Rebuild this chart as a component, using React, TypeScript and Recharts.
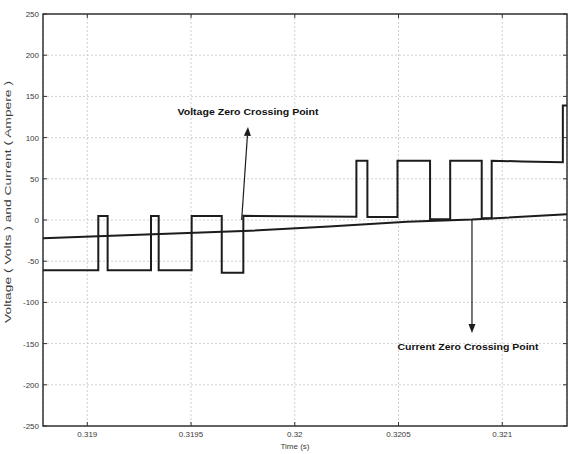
import React from 'react';
import {
  LineChart,
  Line,
  XAxis,
  YAxis,
  CartesianGrid,
  ReferenceLine,
  ReferenceArea,
} from 'recharts';

// Voltage (pulse waveform) breakpoints: time (s) and value
const voltageTime = [
  0.3187865, 0.319053, 0.319053, 0.319098, 0.319098, 0.319307, 0.319307, 0.319344, 0.319344,
  0.319503, 0.319503, 0.319648, 0.319648, 0.319752, 0.319752, 0.320297, 0.320297, 0.32035,
  0.32035, 0.320495, 0.320495, 0.320652, 0.320652, 0.320749, 0.320749, 0.320901, 0.320901,
  0.320949, 0.320949, 0.321095, 0.321292, 0.321292, 0.321312,
];
const voltageValue = [
  -61, -61, 5, 5, -61, -61, 5, 5, -61,
  -61, 5, 5, -64, -64, 5, 4, 72, 72,
  3.5, 3.5, 72, 72, 1, 1, 72, 72, 2,
  2, 72, 71, 70, 139, 139,
];

// Current (slowly rising sine, near its zero crossing)
const currentTime = [0.3187865, 0.31925, 0.319784, 0.320165, 0.320541, 0.320854, 0.321312];
const currentValue = [-22, -18, -13, -8, -2, 0.5, 7];

const xTicks = [0.319, 0.3195, 0.32, 0.3205, 0.321];
const xTickLabels = ['0.319', '0.3195', '0.32', '0.3205', '0.321'];
const yTicks = [-250, -200, -150, -100, -50, 0, 50, 100, 150, 200, 250];

const xDomain: [number, number] = [0.3187865, 0.321312];
const yDomain: [number, number] = [-250, 250];

// Annotations (data coordinates)
const voltageAnnotation = { text: 'Voltage Zero Crossing Point', from: [0.319744, 0], to: [0.3197745, 113] };
const currentAnnotation = { text: 'Current Zero Crossing Point', from: [0.320854, 0], to: [0.320854, -137] };

const voltageData = voltageTime.map((t, i) => ({ t, v: voltageValue[i] }));
const currentData = currentTime.map((t, i) => ({ t, c: currentValue[i] }));

const INK = '#1c1c1c';
const TICK_COLOR = '#3a3a3a';
const FONT = '"Liberation Sans", Arial, sans-serif';
const PLOT_W = 524;
const PLOT_H = 412;

const LeftTick = (props: any) => {
  const { x, y, payload } = props;
  const ax = x + 4;
  return (
    <g>
      <line x1={ax} y1={y} x2={ax + 4} y2={y} stroke="#333" strokeWidth={1} />
      <line x1={ax + PLOT_W} y1={y} x2={ax + PLOT_W - 4} y2={y} stroke="#333" strokeWidth={1} />
      <text x={x} y={y} dy={3} textAnchor="end" fontSize={8} fill={TICK_COLOR} fontFamily={FONT}>
        {payload.value}
      </text>
    </g>
  );
};

const BottomTick = (props: any) => {
  const { x, y, payload } = props;
  const ay = y - 4;
  return (
    <g>
      <line x1={x} y1={ay} x2={x} y2={ay - 4} stroke="#333" strokeWidth={1} />
      <line x1={x} y1={ay - PLOT_H} x2={x} y2={ay - PLOT_H + 4} stroke="#333" strokeWidth={1} />
      <text x={x} y={y} dy={7} textAnchor="middle" fontSize={8} fill={TICK_COLOR} fontFamily={FONT}>
        {xTickLabels[xTicks.indexOf(payload.value)] ?? String(payload.value)}
      </text>
    </g>
  );
};

const makeArrow = (label: string, textAbove: boolean) => (props: any) => {
  const { x1, y1, x2, y2 } = props;
  const dx = x2 - x1;
  const dy = y2 - y1;
  const len = Math.sqrt(dx * dx + dy * dy) || 1;
  const ux = dx / len;
  const uy = dy / len;
  const hl = 9;
  const hw = 3.5;
  const bx = x2 - ux * hl;
  const by = y2 - uy * hl;
  const p1 = `${x2},${y2}`;
  const p2 = `${bx - uy * hw},${by + ux * hw}`;
  const p3 = `${bx + uy * hw},${by - ux * hw}`;
  return (
    <g>
      <line x1={x1} y1={y1} x2={bx} y2={by} stroke={INK} strokeWidth={1.2} />
      <polygon points={`${p1} ${p2} ${p3}`} fill={INK} />
      <text
        x={textAbove ? x2 : x2 - 4}
        y={textAbove ? y2 - 12 : y2 + 17}
        textAnchor="middle"
        fontSize={9.5}
        fontWeight="bold"
        fill="#111"
        fontFamily={FONT}
        textLength={141}
        lengthAdjust="spacingAndGlyphs"
      >
        {label}
      </text>
    </g>
  );
};

export default function App() {
  return (
    <div style={{ position: 'absolute', left: 0, top: 0, width: 570, height: 454, background: '#fff' }}>
      <LineChart width={570} height={454} margin={{ top: 14, right: 3, bottom: 0, left: 0 }}>
        <CartesianGrid
          xAxisId="b"
          yAxisId="l"
          stroke="#c4c4c4"
          strokeDasharray="2 2"
          strokeWidth={0.8}
        />
        <XAxis
          xAxisId="b"
          dataKey="t"
          type="number"
          domain={xDomain}
          ticks={xTicks}
          allowDataOverflow
          height={28}
          tickSize={0}
          tickMargin={4}
          tickLine={false}
          axisLine={false}
          tick={<BottomTick />}
          label={() => (
            <text x={295} y={449} textAnchor="middle" fontSize={8} fill={TICK_COLOR} fontFamily={FONT}>
              Time (s)
            </text>
          )}
        />
        <YAxis
          yAxisId="l"
          type="number"
          domain={yDomain}
          ticks={yTicks}
          allowDataOverflow
          width={43}
          tickSize={0}
          tickMargin={4}
          tickLine={false}
          axisLine={false}
          tick={<LeftTick />}
          label={() => (
            <text
              x={11}
              y={202}
              transform="rotate(-90 11 202)"
              textAnchor="middle"
              fontSize={8.5}
              fill={TICK_COLOR}
              fontFamily={FONT}
              textLength={242}
              lengthAdjust="spacingAndGlyphs"
            >
              Voltage ( Volts ) and Current ( Ampere )
            </text>
          )}
        />
        <ReferenceArea
          xAxisId="b"
          yAxisId="l"
          x1={xDomain[0]}
          x2={xDomain[1]}
          y1={yDomain[0]}
          y2={yDomain[1]}
          fill="none"
          fillOpacity={0}
          stroke="#333"
          strokeWidth={1.5}
          ifOverflow="visible"
        />
        <Line
          xAxisId="b"
          yAxisId="l"
          data={currentData}
          dataKey="c"
          type="linear"
          stroke={INK}
          strokeWidth={2}
          dot={false}
          isAnimationActive={false}
        />
        <Line
          xAxisId="b"
          yAxisId="l"
          data={voltageData}
          dataKey="v"
          type="linear"
          stroke={INK}
          strokeWidth={2}
          dot={false}
          isAnimationActive={false}
        />
        <ReferenceLine
          xAxisId="b"
          yAxisId="l"
          segment={[
            { x: voltageAnnotation.from[0], y: voltageAnnotation.from[1] },
            { x: voltageAnnotation.to[0], y: voltageAnnotation.to[1] },
          ]}
          shape={makeArrow(voltageAnnotation.text, true)}
        />
        <ReferenceLine
          xAxisId="b"
          yAxisId="l"
          segment={[
            { x: currentAnnotation.from[0], y: currentAnnotation.from[1] },
            { x: currentAnnotation.to[0], y: currentAnnotation.to[1] },
          ]}
          shape={makeArrow(currentAnnotation.text, false)}
        />
      </LineChart>
    </div>
  );
}
